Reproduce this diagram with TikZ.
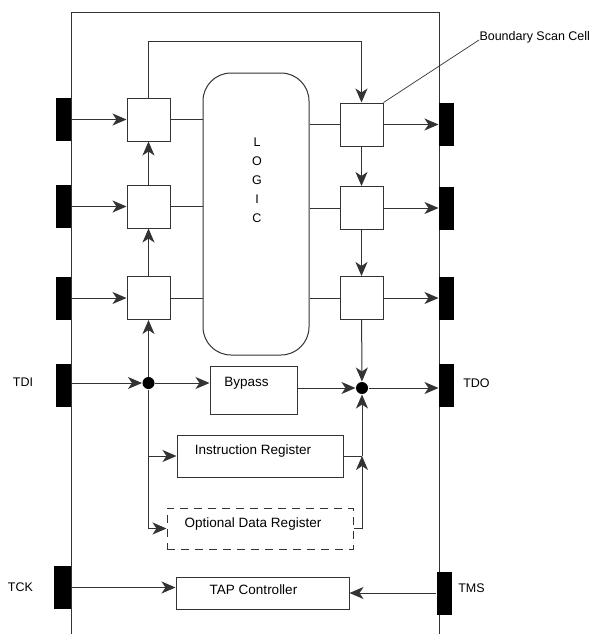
\documentclass[tikz,border=0pt]{standalone}
\usepackage{fontspec}
\setmainfont{Liberation Sans}
\usetikzlibrary{arrows.meta}
\begin{document}
\begin{tikzpicture}[x=1pt,y=-1pt,
    line width=1pt, draw=black!80,
    font=\fontsize{12.5}{15}\selectfont,
    cell/.style={draw, minimum width=43pt, minimum height=43pt, inner sep=0pt},
    pin/.style={fill=black, minimum width=15pt, minimum height=43pt, inner sep=0pt},
    reg/.style={draw, inner sep=0pt, font=\fontsize{13.5}{16}\selectfont},
    dot/.style={circle, fill=black, minimum size=12pt, inner sep=0pt},
    arr/.style={-{Stealth[length=14pt,width=12pt,inset=4pt]}}]
    \useasboundingbox (0,0) rectangle (594,634);

    % Chip outline
    \draw (71,634) -- (71,13) -- (439,13) -- (439,634);

    % Pins
    \node[pin] (pl1) at (63.5,119.5) {};
    \node[pin] (pl2) at (63.5,206.5) {};
    \node[pin] (pl3) at (63.5,298) {};
    \node[pin] (tdi) at (63.5,385) {};
    \node[pin, minimum width=17pt] (tck) at (62.5,587.5) {};
    \node[pin] (pr1) at (446.5,124.5) {};
    \node[pin] (pr2) at (446.5,208) {};
    \node[pin] (pr3) at (446.5,298) {};
    \node[pin] (tdo) at (446.5,385) {};
    \node[pin] (tms) at (444,593) {};

    % Pin labels
    \node (tdilbl) at (23,382) {TDI};
    \node (tcklbl) at (20.5,587) {TCK};
    \node (tdolbl) at (476.5,383) {TDO};
    \node (tmslbl) at (471.5,588) {TMS};

    % Boundary scan cells
    \node[cell] (cl1) at (148.5,119.5) {};
    \node[cell] (cl2) at (148.5,206.5) {};
    \node[cell] (cl3) at (148.5,298) {};
    \node[cell] (cr1) at (361.5,124.5) {};
    \node[cell] (cr2) at (361.5,208) {};
    \node[cell] (cr3) at (361.5,298) {};

    % Core logic
    \node[draw, rounded corners=28pt, minimum width=106pt, minimum height=282pt] (logic) at (256,214) {};
    \node[align=center, font=\fontsize{12.5}{19}\selectfont] (logictext) at (257,180) {L\\O\\G\\I\\C};

    \draw (cl1) -- (cl1 -| logic.west);
    \draw (cl2) -- (cl2 -| logic.west);
    \draw (cl3) -- (cl3 -| logic.west);
    \draw (cr1 -| logic.east) -- (cr1);
    \draw (cr2 -| logic.east) -- (cr2);
    \draw (cr3 -| logic.east) -- (cr3);

    % Pins to cells
    \draw[arr] (pl1) -- (cl1);
    \draw[arr] (pl2) -- (cl2);
    \draw[arr] (pl3) -- (cl3);
    \draw[arr] (cr1) -- (pr1);
    \draw[arr] (cr2) -- (pr2);
    \draw[arr] (cr3) -- (pr3);

    % Scan chain
    \node[dot] (dl) at (148.5,383) {};
    \node[dot] (dr) at (362,388) {};
    \draw[arr] (tdi.east |- dl) -- (dl);
    \draw[arr] (dl) -- (cl3);
    \draw[arr] (cl3) -- (cl2);
    \draw[arr] (cl2) -- (cl1);
    \draw[arr] (cl1.north) -- ++(0,-56) -| (cr1.north);
    \draw[arr] (cr1) -- (cr2);
    \draw[arr] (cr2) -- (cr3);
    \draw[arr] (cr3) -- (dr);
    \draw[arr] (dr) -- (dr -| tdo.west);

    % Registers
    \node[reg, minimum width=87pt, text height=20pt, text depth=28pt] (byp) at (253.5,390) {Bypass\hspace*{14pt}};
    \node[reg, minimum width=166pt, text height=19pt, text depth=23pt] (ir) at (260,456) {Instruction Register\hspace*{14pt}};
    \node[reg, dash pattern=on 8pt off 6pt, minimum width=186pt, text height=19pt, text depth=22pt] (odr) at (260,528.5) {Optional Data Register\hspace*{14pt}};
    \node[reg, minimum width=173pt, text height=17pt, text depth=15pt] (tap) at (262.5,593) {TAP Controller\hspace*{18pt}};

    \draw[arr] (dl) -- (dl -| byp.west);
    \draw[arr] (byp.east |- dr) -- (dr);
    \draw[arr] (dl) |- (odr.west);
    \draw[arr] (dl |- ir.west) -- (ir.west);
    \coordinate (jr) at (dr |- ir.east);
    \draw (ir.east) -- (jr);
    \draw[arr] (jr) -- (dr);
    \draw[arr] (odr.east) -| (jr);

    % TAP inputs
    \draw[arr] (tck.east) -- (tck.east -| tap.west);
    \draw[arr] (tms.west) -- (tms.west -| tap.east);

    % Callout
    \node[anchor=west, inner sep=0pt] (bsc) at (479,37) {Boundary Scan Cell};
    \draw[line width=0.7pt] (cr1.north east) -- ([yshift=-3pt]bsc.west);
\end{tikzpicture}
\end{document}
